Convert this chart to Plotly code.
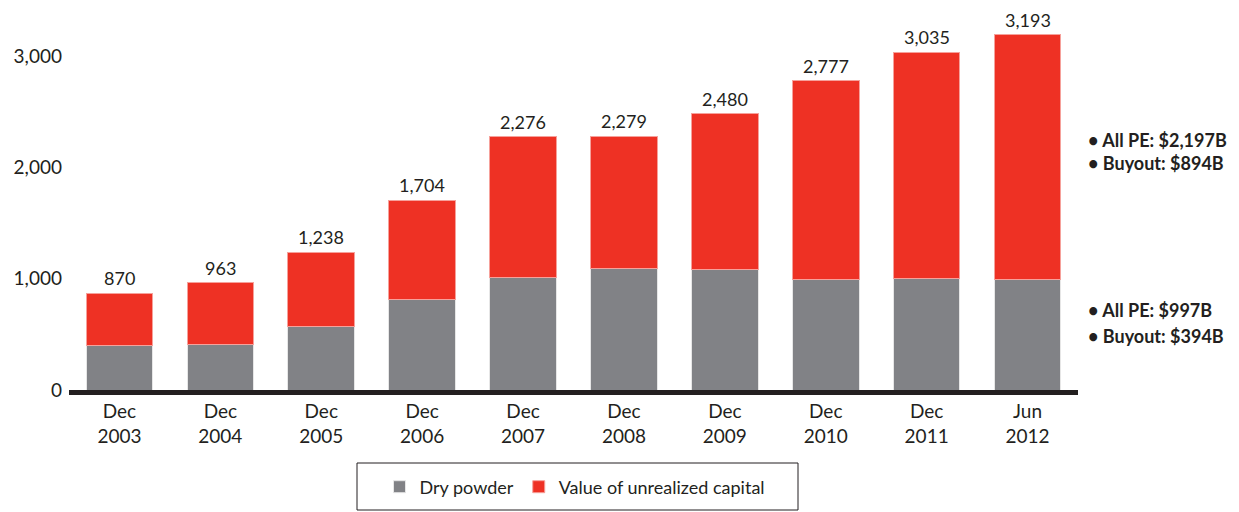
import plotly.graph_objects as go

categories = ["Dec<br>2003", "Dec<br>2004", "Dec<br>2005", "Dec<br>2006", "Dec<br>2007",
              "Dec<br>2008", "Dec<br>2009", "Dec<br>2010", "Dec<br>2011", "Jun<br>2012"]
dry_powder = [404, 413, 566, 809, 1015, 1087, 1078, 997, 1006, 997]
totals = [870, 963, 1238, 1704, 2276, 2279, 2480, 2777, 3035, 3193]
unrealized = [t - d for t, d in zip(totals, dry_powder)]
total_labels = ["870", "963", "1,238", "1,704", "2,276", "2,279", "2,480", "2,777", "3,035", "3,193"]
y_ticks = [0, 1000, 2000, 3000]
y_tick_labels = ["0", "1,000", "2,000", "3,000"]
note_lines = ["• All PE: $2,197B", "• Buyout: $894B", "• All PE: $997B", "• Buyout: $394B"]
note_y = [2246, 2035, 719, 485]

GRAY = "#818286"
RED = "#EE3124"
TXT = "#231F20"
FONT = "Lato"

# page is rendered with an 8px body margin -> figure sized/positioned accordingly
OFF = 8
W, H = 1239 - OFF, 512 - OFF
L, R_EDGE, BOTTOM = 69 - OFF, 1078 - OFF, 390 - OFF
PW, PH = R_EDGE - L, BOTTOM


def px_x(x):
    return (x - OFF - L) / PW


def px_y(y):
    return (BOTTOM - (y - OFF)) / PH


fig = go.Figure()
fig.add_trace(go.Bar(x=categories, y=dry_powder, name="Dry powder",
                     marker=dict(color=GRAY, line=dict(color="#E6E6E6", width=1)),
                     width=0.66))
fig.add_trace(go.Bar(x=categories, y=unrealized, name="Value of unrealized capital",
                     marker=dict(color=RED, line=dict(color="#F6A19B", width=1)),
                     width=0.66))

for c, t, lab in zip(categories, totals, total_labels):
    fig.add_annotation(x=c, y=t, text=lab, showarrow=False, yanchor="bottom", yshift=3,
                       borderpad=0, font=dict(family=FONT, size=18, color=TXT))

for yv, txt in zip(note_y, note_lines):
    fig.add_annotation(xref="paper", x=1.0, xshift=8, y=yv, yref="y", text=txt, showarrow=False,
                       xanchor="left", align="left",
                       font=dict(family=FONT, size=18, color=TXT, weight="bold"))

# legend frame
fig.add_shape(type="rect", xref="paper", yref="paper",
              x0=px_x(357), x1=px_x(798), y0=px_y(510), y1=px_y(463),
              line=dict(color=TXT, width=1), fillcolor="rgba(0,0,0,0)")

fig.update_layout(
    barmode="stack",
    width=W, height=H,
    margin=dict(l=L, r=W - R_EDGE, t=0, b=H - BOTTOM, autoexpand=False),
    plot_bgcolor="white", paper_bgcolor="white",
    showlegend=True,
    legend=dict(orientation="h", x=px_x(575), xanchor="center",
                y=px_y(487), yanchor="middle",
                borderwidth=0, bgcolor="rgba(0,0,0,0)",
                font=dict(family=FONT, size=18, color=TXT),
                itemwidth=30, traceorder="normal"),
    font=dict(family=FONT, color=TXT),
)
fig.update_xaxes(showline=True, linecolor=TXT, linewidth=5, ticks="",
                 tickfont=dict(family=FONT, size=19, color=TXT),
                 range=[-0.5, 9.5], showgrid=False, automargin=False)
fig.update_yaxes(range=[0, PH / 111.33 * 1000], tickvals=y_ticks, ticktext=y_tick_labels,
                 showgrid=False, zeroline=False, showline=False, automargin=False,
                 tickfont=dict(family=FONT, size=19, color=TXT), ticklabelstandoff=6)

fig.write_html("out.html")
